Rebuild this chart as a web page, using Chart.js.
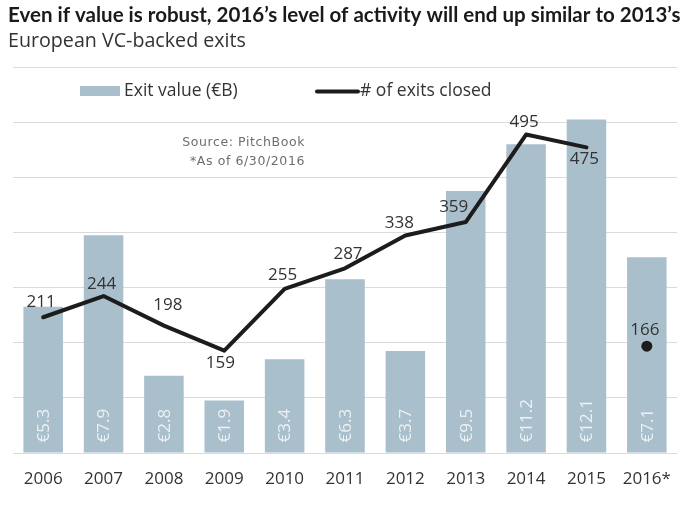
<!DOCTYPE html>
<html>
<head>
<meta charset="utf-8">
<script src="https://cdn.jsdelivr.net/npm/chart.js@4.4.1/dist/chart.umd.min.js"></script>
<style>
  html, body { margin: 0; padding: 0; background: #ffffff; }
  #wrap { width: 690px; height: 510px; }
</style>
</head>
<body>
<div id="wrap"><canvas id="c" width="690" height="510"></canvas></div>
<script>
// ---- Data ----
const years = ['2006', '2007', '2008', '2009', '2010', '2011', '2012', '2013', '2014', '2015', '2016*'];
const exitValue = [5.3, 7.9, 2.8, 1.9, 3.4, 6.3, 3.7, 9.5, 11.2, 12.1, 7.1];
const exitsClosed = [211, 244, 198, 159, 255, 287, 338, 359, 495, 475, 166];
const titleText = 'Even if value is robust, 2016\u2019s level of activity will end up similar to 2013\u2019s';
const subtitleText = 'European VC-backed exits';
const legendLabels = ['Exit value (\u20acB)', '# of exits closed'];
const sourceLines = ['Source: PitchBook', '*As of 6/30/2016'];

// ---- Styling / label placement (not data) ----
const barColor = '#a9bfcc';
const lineColor = '#1c1c1c';
const lineLabelOffsets = [[-2,-15],[-2,-12],[4,-20],[-4,12],[-2,-14],[3,-14],[-6,-12],[-12,-15],[-2,-12],[-2,12],[-2,-16]];
const separateIndex = years.length - 1; // partial-year point drawn unconnected

function fitFont(ctx, text, weight, family, baseSize, targetWidth) {
  ctx.font = weight + ' ' + baseSize + 'px ' + family;
  const w = ctx.measureText(text).width;
  const s = baseSize * targetWidth / w;
  ctx.font = weight + ' ' + s.toFixed(2) + 'px ' + family;
}

const annotate = {
  id: 'annotate',
  afterDraw(chart) {
    const ctx = chart.ctx;
    ctx.save();
    // Title
    ctx.fillStyle = '#1a1a1a';
    ctx.textBaseline = 'alphabetic';
    ctx.textAlign = 'left';
    fitFont(ctx, titleText, 'bold', 'Lato', 16, 673);
    ctx.fillText(titleText, 8, 22);
    // Subtitle
    ctx.fillStyle = '#333333';
    fitFont(ctx, subtitleText, 'normal', '"Open Sans"', 17, 238);
    ctx.fillText(subtitleText, 8, 47);

    // Legend
    ctx.fillStyle = barColor;
    ctx.fillRect(80, 86, 40, 10);
    ctx.fillStyle = '#333333';
    ctx.font = '17.5px "Open Sans"';
    ctx.textBaseline = 'middle';
    ctx.fillText(legendLabels[0], 124, 91);
    ctx.strokeStyle = lineColor;
    ctx.lineWidth = 4;
    ctx.lineCap = 'round';
    ctx.beginPath();
    ctx.moveTo(317, 91.5);
    ctx.lineTo(358, 91.5);
    ctx.stroke();
    ctx.fillText(legendLabels[1], 360, 91);

    // Source note
    ctx.fillStyle = '#6e6e6e';
    ctx.font = '12.5px "DejaVu Sans"';
    ctx.letterSpacing = '0.6px';
    ctx.textAlign = 'right';
    ctx.fillText(sourceLines[0], 305, 143);
    ctx.fillText(sourceLines[1], 305, 162);
    ctx.restore();
  },
  afterDatasetsDraw(chart) {
    const ctx = chart.ctx;
    ctx.save();
    // Bar value labels (rotated)
    const barMeta = chart.getDatasetMeta(0);
    ctx.font = '17px "Open Sans"';
    ctx.fillStyle = 'rgba(255,255,255,0.78)';
    barMeta.data.forEach((el, i) => {
      ctx.save();
      ctx.translate(el.x + 1, el.base - 10);
      ctx.rotate(-Math.PI / 2);
      ctx.textAlign = 'left';
      ctx.textBaseline = 'middle';
      ctx.fillText('\u20ac' + exitValue[i].toFixed(1), 0, 0);
      ctx.restore();
    });
    // Line value labels
    const lineMeta = chart.getDatasetMeta(1);
    ctx.fillStyle = '#333333';
    ctx.font = '17px "Open Sans"';
    ctx.textAlign = 'center';
    ctx.textBaseline = 'middle';
    lineMeta.data.forEach((pt, i) => {
      const o = lineLabelOffsets[i];
      ctx.fillText(String(exitsClosed[i]), pt.x + o[0], pt.y + o[1]);
    });
    ctx.restore();
  }
};

new Chart(document.getElementById('c'), {
  data: {
    labels: years,
    datasets: [
      {
        type: 'bar',
        label: legendLabels[0],
        data: exitValue,
        backgroundColor: barColor,
        yAxisID: 'y',
        order: 2,
        barPercentage: 0.655,
        categoryPercentage: 1.0
      },
      {
        type: 'line',
        label: legendLabels[1],
        data: exitsClosed,
        yAxisID: 'y1',
        order: 1,
        borderColor: lineColor,
        backgroundColor: lineColor,
        borderWidth: 4,
        tension: 0,
        borderJoinStyle: 'round',
        borderCapStyle: 'round',
        pointRadius: ctx => ctx.dataIndex === separateIndex ? 5.5 : 0,
        pointHoverRadius: 0,
        pointBackgroundColor: lineColor,
        pointBorderWidth: 0,
        segment: {
          borderColor: ctx => ctx.p1DataIndex === separateIndex ? 'rgba(0,0,0,0)' : lineColor
        }
      }
    ]
  },
  options: {
    responsive: false,
    animation: false,
    layout: { padding: { left: 13, right: 13, top: 67, bottom: 4.6 } },
    plugins: {
      legend: { display: false },
      title: { display: false },
      tooltip: { enabled: false }
    },
    scales: {
      x: {
        offset: true,
        grid: { display: false, drawTicks: false },
        border: { display: false },
        ticks: {
          color: '#333333',
          font: { family: 'Open Sans', size: 17 },
          padding: 16,
          maxRotation: 0,
          autoSkip: false
        }
      },
      y: {
        position: 'left',
        min: 0,
        max: 14,
        ticks: { display: false, stepSize: 2 },
        grid: { color: '#dadada', lineWidth: 1, drawTicks: false },
        border: { display: false }
      },
      y1: {
        display: false,
        min: 0,
        max: 600
      }
    }
  },
  plugins: [annotate]
});
</script>
</body>
</html>
